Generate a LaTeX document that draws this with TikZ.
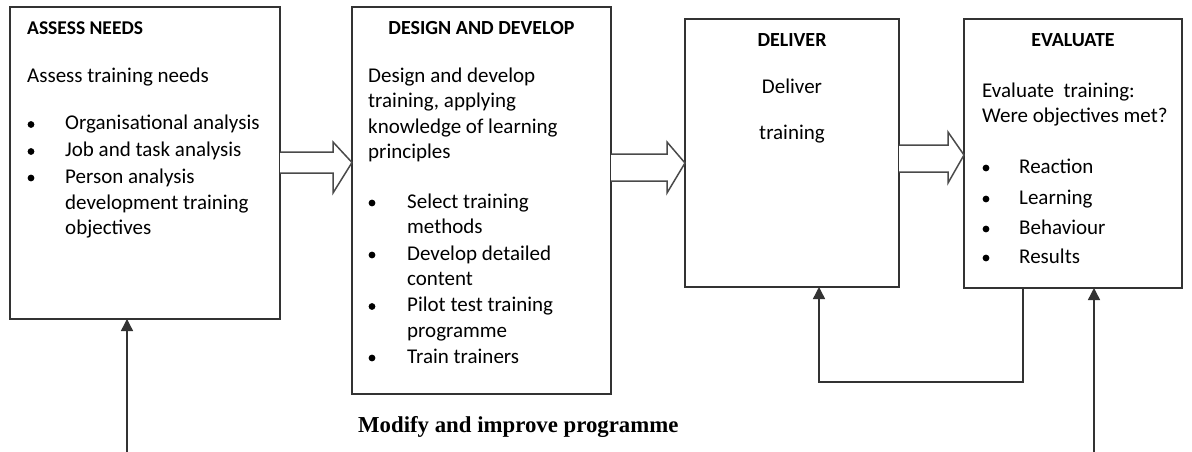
\documentclass[tikz,border=0pt]{standalone}
\usepackage{fontspec}
\setmainfont{Carlito}
\newfontfamily\tnrfont{Liberation Serif}
\usetikzlibrary{arrows.meta}
\definecolor{linec}{HTML}{333333}
\definecolor{blkc}{HTML}{4a4a4a}
\newcommand\bul[2]{\fill[black] (#1,#2-5) circle (3.4pt);}
\begin{document}
\begin{tikzpicture}[x=1pt,y=-1pt,
  box/.style={draw=linec,line width=1.4pt,anchor=north west,inner sep=0pt,outer sep=0pt},
  ttl/.style={anchor=base,font=\bfseries\fontsize{20}{24}\selectfont,inner sep=0pt},
  ttll/.style={anchor=base west,font=\bfseries\fontsize{19.5}{24}\selectfont,inner sep=0pt},
  txt/.style={anchor=base west,font=\fontsize{21}{25}\selectfont,inner sep=0pt},
  ctxt/.style={anchor=base,font=\fontsize{21}{25}\selectfont,inner sep=0pt},
  arr/.style={draw=linec,line width=1.4pt,-{Triangle[width=12pt,length=12pt]}},
  blk/.style={draw=blkc,line width=1.5pt,fill=white,line join=miter}]
\useasboundingbox (0,0) rectangle (1192,452);
\fill[white] (0,0) rectangle (1192,452);

% boxes
\node[box,minimum width=270pt,minimum height=312pt] (b1) at (10,7) {};
\node[box,minimum width=259pt,minimum height=387pt] (b2) at (352,7) {};
\node[box,minimum width=214pt,minimum height=268pt] (b3) at (685,19) {};
\node[box,minimum width=218pt,minimum height=269pt] (b4) at (964,19) {};

% block arrows
\draw[blk] (280,152) -- (333,152) -- (333,142) -- (352,162.5) -- (333,193) -- (333,173) -- (280,173);
\draw[blk] (611,154) -- (667,154) -- (667,142) -- (685,163) -- (667,193) -- (667,181) -- (611,181);
\draw[blk] (899,145) -- (948,145) -- (948,132) -- (964,155) -- (948,183) -- (948,172) -- (899,172);

% box 1
\node[ttll] (h1) at (27,35) {ASSESS NEEDS};
\node[txt] (t1a) at (27,82) {Assess training needs};
\bul{31}{129.5}\node[txt] (t1b) at (65,129.5) {Organisational analysis};
\bul{31}{156.5}\node[txt] (t1c) at (65,156.5) {Job and task analysis};
\bul{31}{183}\node[txt] (t1d) at (65,183) {Person analysis};
\node[txt] (t1e) at (65,209) {development training};
\node[txt] (t1f) at (65,234) {objectives};

% box 2
\node[ttl] (h2) at (481.5,35) {DESIGN AND DEVELOP};
\node[txt] (t2a) at (368,82) {Design and develop};
\node[txt] (t2b) at (368,107.5) {training, applying};
\node[txt] (t2c) at (368,133) {knowledge of learning};
\node[txt] (t2d) at (368,158.5) {principles};
\bul{372}{208}\node[txt] (t2e) at (407,208) {Select training};
\node[txt] (t2f) at (407,233.5) {methods};
\bul{372}{260}\node[txt] (t2g) at (407,260) {Develop detailed};
\node[txt] (t2h) at (407,285.5) {content};
\bul{372}{311.5}\node[txt] (t2i) at (407,311.5) {Pilot test training};
\node[txt] (t2j) at (407,337) {programme};
\bul{372}{363}\node[txt] (t2k) at (407,363) {Train trainers};

% box 3
\node[ttl] (h3) at (792,47) {DELIVER};
\node[ctxt] (t3a) at (792,94) {Deliver};
\node[ctxt] (t3b) at (792,139.5) {training};

% box 4
\node[ttl] (h4) at (1073,47) {EVALUATE};
\node[txt] (t4a) at (982,97) {Evaluate\ \ training:};
\node[txt] (t4b) at (982,122) {Were objectives met?};
\bul{986}{173}\node[txt] (t4c) at (1019,173) {Reaction};
\bul{986}{204}\node[txt] (t4d) at (1019,204) {Learning};
\bul{986}{234}\node[txt] (t4e) at (1019,234) {Behaviour};
\bul{986}{263}\node[txt] (t4f) at (1019,263) {Results};

% caption
\node[anchor=base west,inner sep=0pt,font=\tnrfont\bfseries\fontsize{22.8}{26}\selectfont] (mod) at (358,432) {Modify and improve programme};

% feedback connectors
\coordinate (f1) at (127,452);
\coordinate (f2) at (1094,452);
\coordinate (l1) at (1023,382);
\coordinate (l2) at (819,382);
\draw[arr] (f1) -- (f1 |- b1.south);
\draw[arr] (f2) -- (f2 |- b4.south);
\draw[arr] (l1 |- b4.south) -- (l1) -- (l2) -- (l2 |- b3.south);
\end{tikzpicture}
\end{document}
